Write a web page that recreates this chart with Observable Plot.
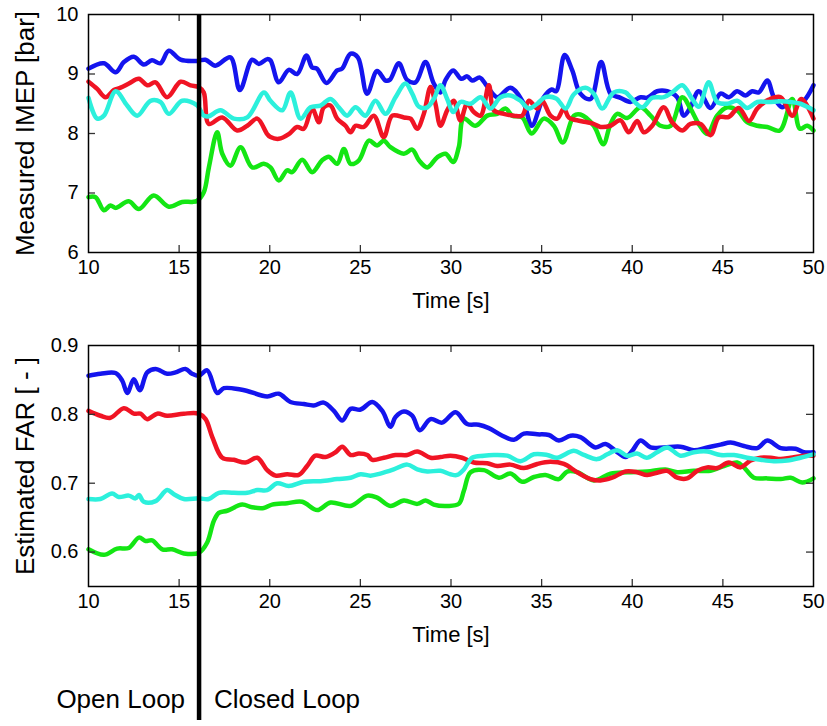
<!DOCTYPE html>
<html><head><meta charset="utf-8">
<script src="https://cdn.jsdelivr.net/npm/d3@7"></script>
<script src="https://cdn.jsdelivr.net/npm/@observablehq/plot@0.6"></script>
<style>
body{margin:0;background:#fff;}
#chart{position:relative;width:827px;height:726px;background:#fff;overflow:hidden;}
#chart svg{position:absolute;left:0;}
</style></head><body><div id="chart"></div>
<script>
// ---------- Data ----------
const switchTime = 16.1;
const xTicks = [10, 15, 20, 25, 30, 35, 40, 45, 50];
const imepTicks = [6, 7, 8, 9, 10];
const farTicks = [0.6, 0.7, 0.8, 0.9];
const seriesColors = {blue: "#1414ee", red: "#f01424", green: "#14e614", cyan: "#2cf0dc"};

// Measured IMEP [bar]
const imepBlueT = [10,10.85,11.5,11.95,12.5,13.05,13.5,13.97,14.43,15.08,16.0,16.45,17.0,17.83,18.35,19.03,19.4,19.86,20.04,20.5,21.05,21.51,22.03,22.34,22.6,23.13,23.72,23.99,24.46,24.86,25.37,25.92,26.39,26.62,27.12,27.58,28.04,28.59,29.05,29.42,29.7,30.12,30.56,30.89,31.17,31.59,32.0,32.55,33.28,34.02,34.45,35.1,35.55,35.8,36.27,36.69,37.14,37.7,38.28,38.8,39.35,39.9,40.46,40.82,41.37,41.93,42.48,42.84,43.21,43.67,44.32,44.87,45.33,45.79,46.25,46.62,46.98,47.45,47.81,48.27,48.73,49.1,49.47,50];
const imepBlueV = [9.09,9.18,9.03,9.2,9.29,9.16,9.23,9.18,9.39,9.24,9.22,9.24,9.14,9.28,8.73,9.24,9.17,9.25,9.23,8.86,9.07,9.0,9.31,9.11,9.09,8.85,9.06,9.09,9.34,9.28,8.67,9.05,8.89,8.9,9.18,8.9,8.86,9.2,8.84,8.69,8.9,9.06,8.92,8.96,8.89,8.94,8.79,8.61,8.77,8.5,8.13,8.6,8.74,8.71,9.32,9.06,8.67,8.58,9.2,8.67,8.6,8.53,8.61,8.6,8.71,8.71,8.61,8.3,8.44,8.71,8.43,8.67,8.61,8.71,8.64,8.71,8.69,8.89,8.61,8.44,8.55,8.5,8.55,8.81];

const imepRedT = [10,10.48,10.94,11.4,11.77,12.23,12.78,13.24,13.7,14.34,15.08,15.63,16.09,16.36,16.64,17.38,18.2,18.76,19.31,19.86,20.04,20.5,21.05,21.51,21.88,22.34,22.71,22.98,23.35,23.72,24.18,24.46,24.73,25.19,25.74,26.29,26.76,27.4,27.77,28.13,28.5,28.87,29.14,29.42,29.79,30.15,30.52,30.89,31.26,31.63,32.09,32.36,32.91,33.47,33.93,34.3,34.76,35.03,35.49,35.86,36.23,36.5,37.14,37.79,38.25,38.8,39.35,39.81,40.27,40.64,41.1,41.74,42.2,42.76,43.21,43.77,44.32,44.78,45.33,45.88,46.44,46.9,47.54,48.19,48.83,49.33,50];
const imepRedV = [8.87,8.75,8.61,8.73,8.77,8.84,8.92,8.81,8.86,8.61,8.87,8.81,8.78,8.69,8.16,8.27,8.05,8.13,8.25,7.99,7.94,7.91,7.99,8.11,8.08,8.42,8.19,8.44,8.47,8.25,8.13,8.02,8.13,8.11,8.3,7.94,8.3,8.27,8.25,8.08,8.33,8.78,8.5,8.13,8.39,8.55,8.22,8.5,8.36,8.3,8.81,8.39,8.33,8.3,8.3,8.55,8.42,8.55,8.3,8.25,8.42,8.27,8.21,8.17,8.11,8.13,8.22,8.02,8.21,8.02,8.13,8.44,8.19,8.05,8.16,8.16,7.97,8.27,8.28,8.43,8.21,8.42,8.57,8.61,8.3,8.58,8.25];

const imepCyanT = [10,10.48,10.85,11.5,12.13,12.69,13.42,13.97,14.43,15.17,16.0,16.36,16.64,17.28,18.02,18.76,19.68,20.04,20.69,21.15,21.7,22.25,22.8,23.35,23.81,24.27,24.73,25.28,25.83,26.39,26.94,27.49,27.86,28.23,28.69,29.05,29.42,29.79,30.12,30.52,31.08,31.63,32.18,32.73,33.28,33.83,34.3,34.76,35.2,35.8,36.32,36.78,37.42,37.88,38.34,38.98,39.63,39.9,40.55,41.1,41.74,42.2,42.76,43.31,43.67,44.22,44.68,45.24,45.79,46.34,46.9,47.54,48.19,48.73,49.28,50];
const imepCyanV = [8.6,8.25,8.3,8.71,8.47,8.3,8.55,8.53,8.33,8.55,8.47,8.3,8.29,8.39,8.25,8.27,8.69,8.55,8.39,8.69,8.25,8.44,8.47,8.58,8.44,8.3,8.44,8.3,8.55,8.33,8.61,8.84,8.67,8.45,8.44,8.58,8.81,8.58,8.36,8.53,8.5,8.61,8.42,8.61,8.64,8.55,8.42,8.5,8.61,8.59,8.42,8.66,8.77,8.67,8.42,8.69,8.69,8.61,8.44,8.6,8.61,8.69,8.81,8.58,8.45,8.86,8.53,8.5,8.55,8.43,8.53,8.53,8.54,8.53,8.5,8.39];

const imepGreenT = [10,10.39,10.85,11.21,11.49,12.22,12.78,13.6,14.43,15.17,15.72,16.0,16.36,16.64,17.1,17.38,17.83,18.39,19.03,19.67,20.04,20.5,20.96,21.24,21.79,22.34,22.89,23.26,23.72,24.09,24.46,24.92,25.47,25.92,26.29,26.66,27.4,27.86,28.23,28.69,29.24,29.7,30.12,30.43,30.7,31.35,32.0,32.55,33.01,33.38,33.93,34.45,35.12,35.67,36.17,36.78,37.14,37.88,38.4,38.8,39.17,39.72,40.46,41.01,41.56,42.12,42.76,43.21,43.67,44.14,44.68,45.24,45.79,46.34,46.9,47.45,48.14,48.83,49.25,49.65,50];
const imepGreenV = [6.93,6.93,6.71,6.79,6.75,6.86,6.73,6.96,6.77,6.85,6.85,6.87,7.01,7.43,8.02,7.66,7.46,7.77,7.43,7.49,7.43,7.21,7.38,7.35,7.56,7.35,7.55,7.61,7.49,7.74,7.49,7.55,7.88,7.8,7.88,7.77,7.66,7.73,7.55,7.43,7.6,7.66,7.52,7.77,8.25,8.13,8.3,8.33,8.42,8.3,8.27,8.0,8.25,8.13,7.85,8.3,8.32,8.13,7.82,8.16,8.33,8.26,8.44,8.3,8.13,8.13,8.61,8.42,8.16,7.99,8.3,8.44,8.39,8.19,8.13,8.11,8.05,8.58,8.08,8.13,8.05];

// Estimated FAR [-]
const farBlueT = [10,10.66,11.49,11.86,12.14,12.5,12.83,13.24,13.7,14.34,14.8,15.35,15.72,16.09,16.55,17.1,17.47,18.39,18.76,19.86,20.5,21.14,21.88,22.43,22.98,23.54,24.0,24.46,25.01,25.66,26.21,26.66,26.94,27.4,27.86,28.28,28.87,29.51,30.25,30.89,31.53,32.09,32.83,33.47,34.02,34.76,35.4,35.95,36.6,37.14,37.97,38.52,39.08,39.63,40.0,40.46,41.01,41.74,42.66,43.4,44.14,44.87,45.43,46.16,46.9,47.45,48.19,49.01,49.47,50];
const farBlueV = [0.856,0.859,0.86,0.849,0.831,0.851,0.835,0.861,0.866,0.859,0.861,0.866,0.859,0.856,0.864,0.831,0.838,0.836,0.834,0.826,0.83,0.818,0.815,0.813,0.817,0.805,0.791,0.808,0.807,0.818,0.805,0.782,0.796,0.804,0.798,0.777,0.793,0.788,0.803,0.786,0.785,0.78,0.769,0.763,0.772,0.771,0.77,0.762,0.769,0.767,0.752,0.757,0.747,0.738,0.747,0.762,0.752,0.752,0.753,0.748,0.752,0.756,0.759,0.754,0.751,0.762,0.751,0.75,0.745,0.745];

const farRedT = [10,10.66,11.21,11.95,12.5,12.87,13.24,13.79,14.34,15.26,16.09,16.46,16.83,17.38,18.02,18.66,19.31,19.86,20.32,20.96,21.6,22.06,22.52,23.07,23.63,24.0,24.46,24.92,25.38,25.66,26.3,26.94,27.59,28.14,28.87,29.42,29.97,30.61,31.26,32.0,32.55,33.28,34.02,34.76,35.49,36.23,36.96,37.7,38.25,38.89,39.63,40.27,40.82,41.46,41.93,42.48,43.03,43.59,44.14,44.69,45.33,45.98,46.53,47.08,47.64,48.19,48.74,49.47,50];
const farRedV = [0.805,0.798,0.795,0.809,0.801,0.801,0.793,0.801,0.798,0.801,0.801,0.793,0.767,0.737,0.734,0.73,0.737,0.719,0.711,0.713,0.712,0.725,0.74,0.738,0.745,0.753,0.741,0.743,0.741,0.734,0.737,0.741,0.741,0.746,0.737,0.738,0.74,0.737,0.73,0.729,0.725,0.727,0.722,0.728,0.731,0.728,0.716,0.706,0.704,0.708,0.717,0.716,0.712,0.716,0.718,0.708,0.707,0.718,0.723,0.722,0.73,0.723,0.733,0.737,0.737,0.735,0.737,0.74,0.74];

const farCyanT = [10,10.66,11.3,11.67,12.22,12.59,12.78,13.05,13.7,14.34,14.71,15.26,16.09,16.64,17.19,18.02,18.76,19.31,19.86,20.41,21.05,21.88,22.8,23.72,24.46,25.01,25.56,26.1,26.84,27.59,28.14,28.69,29.42,29.97,30.34,30.71,31.17,31.81,32.36,33.1,33.83,34.57,35.31,35.86,36.78,37.33,38.07,38.62,39.17,39.72,40.27,40.79,41.37,41.93,42.66,43.4,44.14,44.87,45.61,46.34,47.08,47.81,48.55,49.28,50];
const farCyanV = [0.677,0.677,0.685,0.68,0.682,0.678,0.683,0.673,0.674,0.69,0.684,0.677,0.678,0.677,0.686,0.686,0.686,0.69,0.69,0.7,0.696,0.702,0.703,0.706,0.708,0.713,0.711,0.714,0.72,0.727,0.72,0.717,0.718,0.713,0.712,0.72,0.737,0.74,0.741,0.74,0.732,0.742,0.741,0.737,0.747,0.741,0.735,0.742,0.748,0.74,0.743,0.737,0.745,0.752,0.74,0.745,0.746,0.741,0.741,0.737,0.734,0.732,0.733,0.737,0.742];

const farGreenT = [10,10.85,11.58,12.22,12.78,13.15,13.51,14.07,14.62,15.26,16.09,16.55,16.91,17.19,17.65,18.48,19.03,19.67,20.13,20.96,21.79,22.62,23.35,24.46,25.38,25.93,26.66,27.4,28.14,28.6,29.05,29.79,30.43,30.71,31.08,31.81,32.64,33.28,33.93,34.57,35.21,35.95,36.41,36.96,37.88,38.8,39.72,40.82,41.83,42.48,43.4,44.32,44.96,45.79,46.16,46.71,47.45,48.19,48.74,49.38,50];
const farGreenV = [0.604,0.596,0.605,0.606,0.621,0.616,0.617,0.604,0.604,0.598,0.599,0.614,0.645,0.657,0.66,0.669,0.665,0.664,0.669,0.671,0.673,0.661,0.672,0.667,0.682,0.679,0.667,0.675,0.67,0.675,0.669,0.667,0.67,0.689,0.716,0.719,0.708,0.714,0.702,0.709,0.712,0.706,0.717,0.716,0.704,0.714,0.716,0.717,0.72,0.716,0.718,0.718,0.724,0.73,0.723,0.708,0.707,0.706,0.708,0.701,0.707];

// ---------- Layout ----------
const W = 827, ML = 88, MR = 14;
const FONT = '"Liberation Sans", Arial, Helvetica, sans-serif';

function zip(T, V) { return T.map((t, i) => ({t, v: V[i]})); }

function panel({top, height, marginTop, marginBottom, yDomain, yTicks, innerYTicks, yFormat, yLabel, series, ruleInsetTop, ruleInsetBottom, extra}) {
  const plotH = height - marginTop - marginBottom;
  const plotW = W - ML - MR;
  const tickStyle = {stroke: "#333", strokeWidth: 1.3};
  const marks = [
    ...series.map(s => Plot.line(zip(s.T, s.V), {x: "t", y: "v", stroke: s.color, strokeWidth: 4.5, curve: "catmull-rom", strokeLinejoin: "round", strokeLinecap: "round"})),
    Plot.ruleX(xTicks.slice(1, -1), {...tickStyle, insetTop: plotH - 7}),
    Plot.ruleX(xTicks.slice(1, -1), {...tickStyle, insetBottom: plotH - 7}),
    Plot.ruleY(innerYTicks, {...tickStyle, insetRight: plotW - 7}),
    Plot.ruleY(innerYTicks, {...tickStyle, insetLeft: plotW - 7}),
    Plot.frame({stroke: "black", strokeWidth: 1.5}),
    Plot.axisX({ticks: xTicks, tickSize: 0, tickPadding: 7, label: null, fontSize: 20, tickFormat: d3.format("d")}),
    Plot.axisY({ticks: yTicks, tickSize: 0, tickPadding: 10, label: null, fontSize: 20, tickFormat: yFormat}),
    Plot.text(["Time [s]"], {frameAnchor: "bottom", textAnchor: "middle", lineAnchor: "bottom", dy: 55, fontSize: 22, fill: "black"}),
    Plot.text([yLabel], {frameAnchor: "left", textAnchor: "middle", lineAnchor: "middle", rotate: -90, dx: -63, fontSize: 26, fill: "black"}),
    Plot.ruleX([switchTime], {stroke: "black", strokeWidth: 4.5, insetTop: ruleInsetTop, insetBottom: ruleInsetBottom}),
    ...(extra || [])
  ];
  const svg = Plot.plot({
    width: W, height, marginLeft: ML, marginRight: MR, marginTop, marginBottom,
    x: {domain: [10, 50]},
    y: {domain: yDomain},
    style: {fontFamily: FONT, fontSize: "20px", color: "black", background: "transparent", overflow: "visible"},
    marks
  });
  svg.style.top = top + "px";
  document.getElementById("chart").appendChild(svg);
}

panel({
  top: 0, height: 322, marginTop: 14, marginBottom: 70,
  yDomain: [6, 10], yTicks: imepTicks, innerYTicks: [7, 8, 9], yFormat: d3.format("d"),
  yLabel: "Measured IMEP [bar]",
  series: [
    {T: imepBlueT, V: imepBlueV, color: seriesColors.blue},
    {T: imepGreenT, V: imepGreenV, color: seriesColors.green},
    {T: imepRedT, V: imepRedV, color: seriesColors.red},
    {T: imepCyanT, V: imepCyanV, color: seriesColors.cyan}
  ],
  ruleInsetTop: 0, ruleInsetBottom: -70
});

const loopLabels = [
  {t: switchTime, label: "Open Loop", anchor: "end", dx: -14},
  {t: switchTime, label: "Closed Loop", anchor: "start", dx: 15}
];

panel({
  top: 322, height: 404, marginTop: 23, marginBottom: 140,
  yDomain: [0.55, 0.9], yTicks: farTicks, innerYTicks: [0.6, 0.7, 0.8], yFormat: d3.format(".1f"),
  yLabel: "Estimated FAR [ - ]",
  series: [
    {T: farBlueT, V: farBlueV, color: seriesColors.blue},
    {T: farGreenT, V: farGreenV, color: seriesColors.green},
    {T: farRedT, V: farRedV, color: seriesColors.red},
    {T: farCyanT, V: farCyanV, color: seriesColors.cyan}
  ],
  ruleInsetTop: -23, ruleInsetBottom: -134,
  extra: loopLabels.map(d => Plot.text([d], {x: "t", text: "label", frameAnchor: "bottom", textAnchor: d.anchor, dx: d.dx, dy: 121, fontSize: 26, fill: "black"}))
});
</script>
</body></html>
